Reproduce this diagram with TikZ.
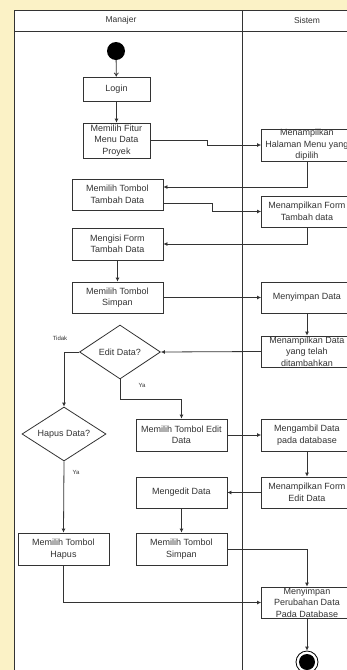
\documentclass[tikz,border=0pt]{standalone}
\usepackage{fontspec}
\setmainfont{Liberation Sans}
\usetikzlibrary{shapes.geometric,arrows.meta}
\definecolor{ln}{HTML}{333333}
\definecolor{bgy}{HTML}{FBF2C6}
\tikzset{
  act/.style={draw=ln, line width=0.8pt, fill=white, rectangle, align=center, inner sep=0pt,
    font=\fontsize{9}{11.5}\selectfont, text=ln},
  lbox/.style={act, minimum width=91pt, minimum height=31pt},
  sbox/.style={act, minimum width=67pt},
  dec/.style={draw=ln, line width=0.8pt, fill=white, diamond, aspect=1.5, inner sep=0pt,
    font=\fontsize{9}{11}\selectfont, text=ln},
  flow/.style={draw=ln, line width=0.8pt, -{Latex[length=4pt,width=4pt]}},
  lbl/.style={font=\fontsize{6}{7}\selectfont, text=ln},
  hdr/.style={font=\fontsize{8.5}{10}\selectfont, text=ln}
}
\begin{document}
\begin{tikzpicture}[x=1pt,y=-1pt]
\useasboundingbox (0,0) rectangle (347,670);
\fill[bgy] (0,0) rectangle (347,670);
\begin{scope}
\clip (0,0) rectangle (347,670);
% swimlanes
\draw[draw=ln, line width=0.9pt, fill=white] (14,10) rectangle (380,700);
\draw[ln, line width=0.8pt] (14,31) -- (380,31);
\draw[ln, line width=0.8pt] (242,10) -- (242,700);
\node[hdr] (hm) at (121,20) {Manajer};
\node[hdr] (hs) at (307,20) {Sistem};

% manager lane
\node[circle, fill=black, minimum size=18pt, inner sep=0pt] (start) at (116,51) {};
\node[sbox, minimum height=24pt] (login) at (116.5,89) {Login};
\node[sbox, minimum height=35pt] (fitur) at (116.5,140.5) {Memilih Fitur\\Menu Data\\Proyek};
\node[lbox] (tambah) at (117.5,194.5) {Memilih Tombol\\Tambah Data};
\node[lbox, minimum height=32pt] (isi) at (117.5,244) {Mengisi Form\\Tambah Data};
\node[lbox] (simpan1) at (117.5,297.5) {Memilih Tombol\\Simpan};
\node[dec, minimum width=81pt, minimum height=54pt] (editd) at (120,352) {Edit Data?};
\node[dec, minimum width=84pt, minimum height=54pt] (hapusd) at (64,434) {Hapus Data?};
\node[lbox, minimum height=32pt] (btnedit) at (181.5,435) {Memilih Tombol Edit\\Data};
\node[lbox] (mengedit) at (181.5,492.5) {Mengedit Data};
\node[lbox, minimum height=32pt] (btnhapus) at (63.5,549) {Memilih Tombol\\Hapus};
\node[lbox, minimum height=32pt] (simpan2) at (181.5,549) {Memilih Tombol\\Simpan};

% system lane
\node[lbox, minimum height=32pt] (halaman) at (307,145) {Menampilkan\\Halaman Menu yang\\dipilih};
\node[lbox] (formtambah) at (307,211.5) {Menampilkan Form\\Tambah data};
\node[lbox] (menyimpan) at (307,297.5) {Menyimpan Data};
\node[lbox] (tampildata) at (307,351.5) {Menampilkan Data\\yang telah\\ditambahkan};
\node[lbox, minimum height=32pt] (mengambil) at (307,435) {Mengambil Data\\pada database};
\node[lbox] (formedit) at (307,492.5) {Menampilkan Form\\Edit Data};
\node[lbox] (perubahan) at (307,602.5) {Menyimpan\\Perubahan Data\\Pada Database};
\node[circle, draw=black, line width=0.8pt, fill=white, minimum size=22pt, inner sep=0pt] (endo) at (307,662) {};
\node[circle, fill=black, minimum size=16pt, inner sep=0pt] (endi) at (307,662) {};

% labels
\node[lbl] (ltidak) at (60,338) {Tidak};
\node[lbl] (lya1) at (142,385) {Ya};
\node[lbl] (lya2) at (76,472) {Ya};

% connectors
\draw[draw=ln, line width=0.8pt, -{To[length=4pt,width=5pt]}] (start) -- (login);
\draw[flow] (login) -- (fitur);
\draw[flow] (fitur.east) -- (207,140.5) |- (halaman.west);
\draw[flow] (halaman.south) |- (tambah.east |- 0,187);
\draw[flow] (tambah.east |- 0,203) -- (212,203) |- (formtambah.west);
\draw[flow] (formtambah.south) |- (isi.east);
\draw[flow] (isi) -- (simpan1);
\draw[flow] (simpan1) -- (menyimpan);
\draw[flow] (menyimpan) -- (tampildata);
\draw[flow] (tampildata.west) -- (editd.east);
\draw[flow] (editd.west) -| (hapusd.north);
\draw[flow] (editd.south) -- (120,399) -| (btnedit.north);
\draw[flow] (btnedit) -- (mengambil);
\draw[flow] (mengambil) -- (formedit);
\draw[flow] (formedit) -- (mengedit);
\draw[flow] (mengedit) -- (simpan2);
\draw[flow] (hapusd.south) -- (btnhapus.north);
\draw[flow] (simpan2.east) -| (perubahan.north);
\draw[flow] (btnhapus.south) |- (perubahan.west);
\draw[flow] (perubahan) -- (endo);
\end{scope}
\end{tikzpicture}
\end{document}
